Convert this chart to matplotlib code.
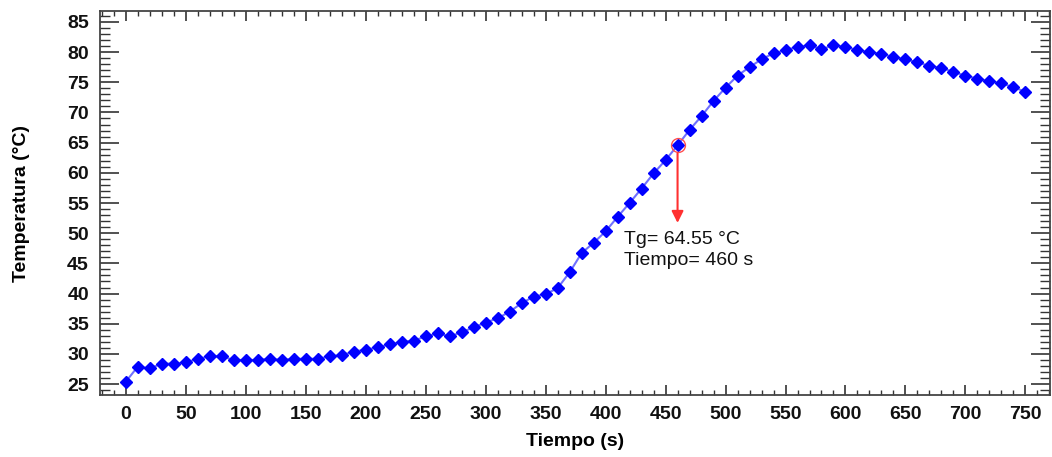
import matplotlib
matplotlib.use("Agg")
import matplotlib.pyplot as plt
from matplotlib.ticker import MultipleLocator

plt.rcParams['font.family'] = ['Liberation Sans', 'DejaVu Sans']

tiempo = list(range(0, 760, 10))
temperatura = [
    25.4, 27.9, 27.6, 28.4, 28.4, 28.6, 29.2, 29.6, 29.6, 29.0,
    29.0, 29.0, 29.2, 29.0, 29.2, 29.2, 29.2, 29.6, 29.8, 30.4,
    30.7, 31.1, 31.6, 32.0, 32.2, 32.9, 33.4, 32.9, 33.6, 34.4,
    35.2, 35.9, 37.0, 38.4, 39.5, 39.9, 40.9, 43.5, 46.7, 48.4,
    50.3, 52.7, 55.0, 57.4, 59.9, 62.1, 64.55, 67.1, 69.4, 71.9,
    74.1, 76.1, 77.5, 78.8, 79.8, 80.3, 80.9, 81.1, 80.5, 81.1,
    80.9, 80.3, 80.0, 79.7, 79.2, 78.8, 78.3, 77.7, 77.4, 76.7,
    76.1, 75.6, 75.2, 74.8, 74.2, 73.4,
]
tg_tiempo = 460
tg_valor = 64.55
arrow_end = 51.7
x_ticks = list(range(0, 800, 50))
y_ticks = list(range(25, 90, 5))

fig = plt.figure(figsize=(10.52, 4.57), dpi=100)
ax = fig.add_axes([100/1052, 62/457, 950/1052, 384/457])

ax.plot(tiempo, temperatura, color='#7070ff', lw=1.5, zorder=2)
ax.plot(tiempo, temperatura, ls='none', marker='D', ms=6, color='#0000ff',
        mec='#0000ff', zorder=3)

# Tg marker
ax.plot([tg_tiempo], [tg_valor], marker='o', ms=10, mfc='none', mec='#ff5050',
        mew=1.0, zorder=4)
ax.annotate('', xy=(tg_tiempo, arrow_end), xytext=(tg_tiempo, tg_valor - 1.3),
            arrowprops=dict(arrowstyle='-|>,head_width=0.35,head_length=0.7',
                            color='#ff3030', lw=1.5, shrinkA=0, shrinkB=0),
            zorder=4)
ax.text(tg_tiempo - 45, 50.4, 'Tg= 64.55 °C\nTiempo= 460 s', fontsize=14,
        color='#111111', va='top', ha='left', linespacing=1.35)

ax.set_xlim(-21.5, 770.5)
ax.set_ylim(23.2, 86.8)
ax.set_xticks(x_ticks)
ax.set_yticks(y_ticks)
ax.xaxis.set_minor_locator(MultipleLocator(10))
ax.yaxis.set_minor_locator(MultipleLocator(1))

ax.tick_params(axis='both', which='both', direction='in', top=True, right=True,
               colors='#333333', labelcolor='#111111')
ax.tick_params(axis='x', which='major', length=7, width=1.2, pad=8)
ax.tick_params(axis='x', which='minor', length=3.5, width=1.0)
ax.tick_params(axis='y', which='major', length=13.5, width=1.2, pad=8)
ax.tick_params(axis='y', which='minor', length=7, width=1.0)
for lab in ax.get_xticklabels() + ax.get_yticklabels():
    lab.set_fontsize(14)
    lab.set_fontweight('bold')

for s in ax.spines.values():
    s.set_color('#444444')
    s.set_linewidth(1.3)

ax.set_xlabel('Tiempo (s)', fontsize=14, fontweight='bold', labelpad=7)
ax.set_ylabel('Temperatura (°C)', fontsize=14, fontweight='bold', labelpad=27)

fig.savefig('out.png', dpi=100)
